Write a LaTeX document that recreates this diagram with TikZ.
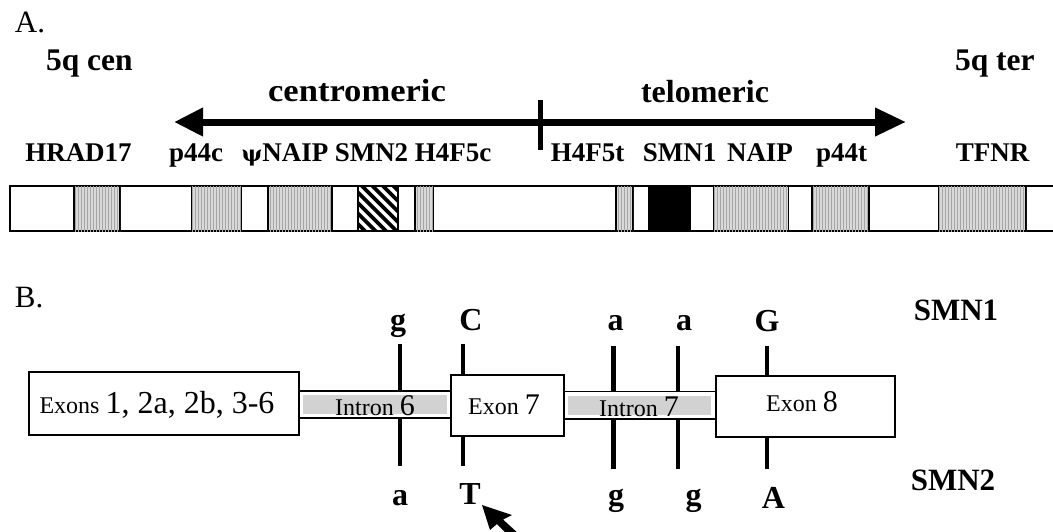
\documentclass[tikz,border=0pt]{standalone}
\usepackage{fontspec}
\setmainfont{Liberation Serif}
\usetikzlibrary{arrows.meta,patterns}

\newcommand\wordsz{\fontsize{24}{24}\selectfont}
\newcommand\digitsz{\fontsize{30}{30}\selectfont}
\newcommand\bigdigitsz{\fontsize{32}{32}\selectfont}

\tikzset{
  txt/.style={anchor=base, inner sep=0pt, outer sep=0pt},
  panel/.style={txt, anchor=base west, font=\fontsize{31}{31}\selectfont},
  end label/.style={txt, font=\fontsize{31.5}{31.5}\selectfont\bfseries},
  dir label/.style={txt, font=\fontsize{32}{32}\selectfont\bfseries},
  gene/.style={txt, font=\fontsize{27}{27}\selectfont\bfseries},
  base/.style={txt, font=\fontsize{32}{32}\selectfont\bfseries},
  copy label/.style={txt, font=\fontsize{31}{31}\selectfont\bfseries},
  locus/.style={draw=black, line width=1.6pt, fill=gray!30,
    postaction={pattern=vertical lines, pattern color=gray!70}},
  chrom/.style={draw=black, line width=2pt},
  exonbox/.style={draw=black, line width=1.4pt, fill=white},
  intronband/.style={draw=black, line width=1.2pt, fill=white},
  site/.style={draw=black, line width=4.5pt},
}

\begin{document}
\begin{tikzpicture}[x=1pt,y=-1pt]
\useasboundingbox[fill=white] (0,0) rectangle (1053,531);

% ---------------- panel A: the 5q13 region ----------------
\node[panel] (pA) at (15,32) {A.};
\node[end label, anchor=base west] (cen) at (46,70) {5q cen};
\node[end label, anchor=base west] (ter) at (955,70) {5q ter};

% orientation arrow with the dividing tick
\coordinate (ltip) at (174,122);
\coordinate (rtip) at (906,122);
\coordinate (ticktop) at (540,100);
\coordinate (tickbot) at (540,150);
\draw[line width=7pt, {Triangle[length=29pt,width=27pt]}-{Triangle[length=31pt,width=27pt]}]
  (ltip) -- (rtip);
\draw[line width=5pt] (ticktop) -- (tickbot);
\node[dir label] (centro) at (357,101) {\scalebox{1.08}[1]{centromeric}};
\node[dir label] (telo) at (705,102) {telomeric};

% gene names
\node[gene] (nHRAD) at (78.5,161) {HRAD17};
\node[gene] (np44c) at (196,161) {p44c};
\node[gene] (npsi)  at (285,161) {{\fontspec{DejaVu Serif}\bfseries\fontsize{22}{22}\selectfont ψ}NAIP};
\node[gene] (nSMN2) at (371.5,161) {SMN2};
\node[gene] (nH4c)  at (453,161) {H4F5c};
\node[gene] (nH4t)  at (587.5,161) {H4F5t};
\node[gene] (nSMN1) at (679.5,161) {SMN1};
\node[gene] (nNAIP) at (760,161) {NAIP};
\node[gene] (np44t) at (841.5,161) {p44t};
\node[gene] (nTFNR) at (992.5,161) {TFNR};

% chromosome bar
\draw[chrom] (1053,186) -- (10,186) -- (10,231) -- (1053,231);
\path[locus] (74,186) rectangle (120,231);
\path[locus] (192,186) rectangle (241,231);
\path[locus] (268,186) rectangle (332,231);
\path[locus] (415,186) rectangle (433,231);
\path[locus] (616,186) rectangle (633,231);
\path[locus] (714,186) rectangle (788.5,231);
\path[locus] (812,186) rectangle (869,231);
\path[locus] (939,186) rectangle (1026,231);
% SMN2: hatched
\begin{scope}
  \clip (358,186) rectangle (398,231);
  \foreach \i in {-6,...,5}
    \draw[line width=3.6pt] (358+\i*10.5,182) -- ++(55,55);
\end{scope}
\draw[line width=1.6pt] (358,186) rectangle (398,231);
% SMN1: solid
\filldraw[line width=1.6pt] (648.5,186) rectangle (690,231);

% ---------------- panel B: SMN1 / SMN2 differences ----------------
\node[panel] (pB) at (15,307) {B.};
\node[copy label] (lSMN1) at (956,320) {SMN1};
\node[copy label] (lSMN2) at (953,490) {SMN2};

% nucleotide positions (drawn beneath the gene structure)
\coordinate (s1t) at (400,344);   \coordinate (s1b) at (400,466);
\coordinate (s2t) at (463,344);   \coordinate (s2b) at (463,466);
\coordinate (s3t) at (613.5,346); \coordinate (s3b) at (613.5,469);
\coordinate (s4t) at (678,346);   \coordinate (s4b) at (678,469);
\coordinate (s5t) at (767,346);   \coordinate (s5b) at (767,469);
\foreach \s in {1,...,5} \draw[site] (s\s t) -- (s\s b);

% introns
\draw[intronband] (297,391) rectangle (453,418);
\fill[gray!35] (303,395) rectangle (447,414);
\draw[intronband] (562,391.5) rectangle (718,419);
\fill[gray!35] (568,395.5) rectangle (711,415);
% exons
\draw[exonbox] (29,372) rectangle (299,435);
\draw[exonbox] (451,375) rectangle (564,436);
\draw[exonbox] (716,376) rectangle (895,437);

\node[txt] (tEx) at (157,413.5) {\wordsz Exons \bigdigitsz 1, 2a, 2b, 3-6};
\node[txt] (tIn6) at (375,415) {\wordsz Intron \digitsz 6};
\node[txt] (tEx7) at (504,414) {\wordsz Exon \digitsz 7};
\node[txt] (tIn7) at (639,416) {\wordsz Intron \digitsz 7};
\node[txt] (tEx8) at (802,411) {\wordsz Exon \digitsz 8};

% SMN1 bases
\node[base] (b1u) at (398,330) {g};
\node[base] (b2u) at (471,330) {C};
\node[base] (b3u) at (615.5,330) {a};
\node[base] (b4u) at (684,330) {a};
\node[base] (b5u) at (767,331) {G};
% SMN2 bases
\node[base] (b1d) at (400,505) {a};
\node[base] (b2d) at (470,504) {T};
\node[base] (b3d) at (616,505) {g};
\node[base] (b4d) at (693.5,505) {g};
\node[base] (b5d) at (773.5,508) {A};

% pointer at the exon 7 C/T change
\coordinate (ptip) at (482,505);
\fill (ptip) -- (512,515) -- (503,519.5) -- (520,535) -- (513,540)
  -- (497,524) -- (490,530) -- cycle;
\end{tikzpicture}
\end{document}
